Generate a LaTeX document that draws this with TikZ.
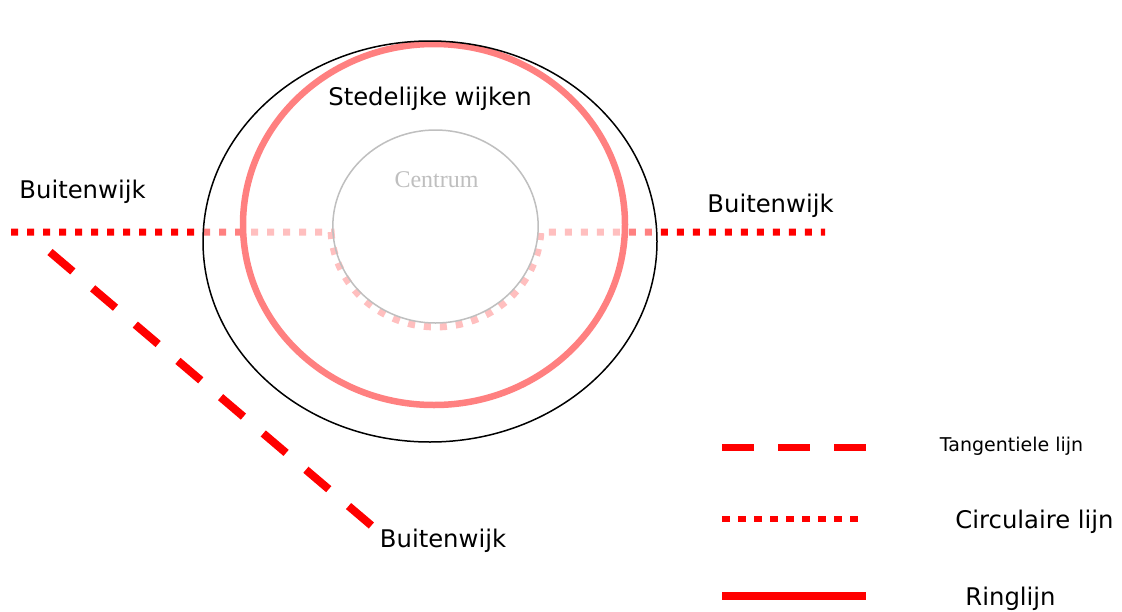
\documentclass[tikz,border=0pt]{standalone}
\usepackage{fontspec}
\setmainfont{DejaVu Sans}
\newfontfamily\seriffont{Liberation Serif}
\definecolor{ringred}{RGB}{255,128,128}
\definecolor{centgray}{RGB}{191,191,191}
\begin{document}
\begin{tikzpicture}[x=1pt,y=-1pt,
  lbl/.style={font=\fontsize{24.3}{29}\selectfont, anchor=base, inner sep=0pt},
  smalllbl/.style={font=\fontsize{19}{23}\selectfont, anchor=base, inner sep=0pt},
  circline/.style={draw=red, line width=7pt, dash pattern=on 7pt off 9pt},
  tangline/.style={draw=red, line width=8pt, dash pattern=on 30pt off 26pt},
  ringline/.style={draw=ringred, line width=6.5pt}]
\useasboundingbox (0,0) rectangle (1122,611);
% circular line (full red), later washed by translucent fills
\draw[circline] (11,232) -- (331.1,232)
  arc[start angle=177.1, end angle=2.9, x radius=105, y radius=100]
  -- (825,232);
% translucent white washes
\fill[white, fill opacity=0.5] (430,241.5) ellipse[x radius=227, y radius=200.5];
\fill[white, fill opacity=0.5] (434,224.5) ellipse[x radius=191, y radius=180.5];
% ring line
\draw[ringline] (434,224.5) ellipse[x radius=191, y radius=180.5];
% outer city boundary
\draw[black, line width=1.5pt] (430,241.5) ellipse[x radius=227, y radius=200.5];
% centrum
\draw[centgray, line width=1.5pt] (435.5,226.5) ellipse[x radius=102.7, y radius=96.5];
% tangential line
\coordinate (t1) at (50,252);
\coordinate (t2) at (372,526);
\draw[tangline] (t1) -- (t2);
% labels
\node[lbl] (bwl) at (82.5,198) {Buitenwijk};
\node[lbl] (bwr) at (770.5,212) {Buitenwijk};
\node[lbl] (bwb) at (443,547) {Buitenwijk};
\node[lbl] (sw) at (430,105) {Stedelijke wijken};
\node[font=\seriffont\fontsize{24}{28}\selectfont, text=centgray, anchor=base, inner sep=0pt] (cen) at (436.5,187.5) {Centrum};
% legend
\coordinate (l1a) at (722,447); \coordinate (l1b) at (867,447);
\coordinate (l2a) at (722,519); \coordinate (l2b) at (860,519);
\coordinate (l3a) at (722,596); \coordinate (l3b) at (866,596);
\draw[draw=red, line width=7pt, dash pattern=on 32pt off 24pt] (l1a) -- (l1b);
\draw[draw=red, line width=6.5pt, dash pattern=on 8pt off 8pt] (l2a) -- (l2b);
\draw[draw=red, line width=8pt] (l3a) -- (l3b);
\node[smalllbl] (lg1) at (1011.5,451) {Tangentiele lijn};
\node[lbl] (lg2) at (1034.5,528) {Circulaire lijn};
\node[lbl] (lg3) at (1010.5,605) {Ringlijn};
\end{tikzpicture}
\end{document}
